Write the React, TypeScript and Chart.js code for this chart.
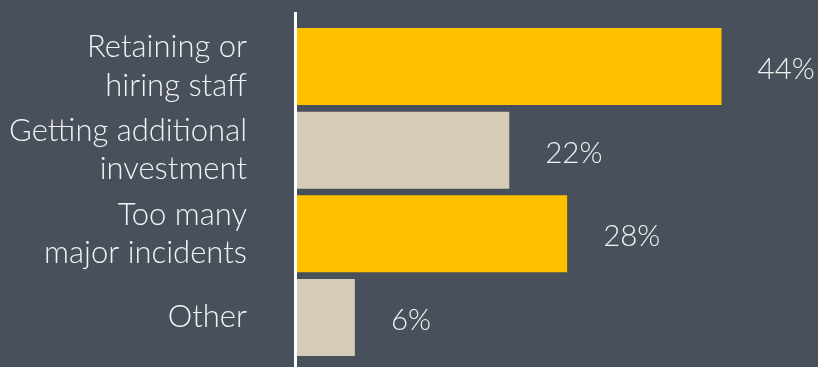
import React, { useEffect, useRef } from "react";
import { Chart, registerables } from "chart.js";

Chart.register(...registerables);

const categories: string[][] = [
  ["Retaining or", "hiring staff"],
  ["Getting additional", "investment"],
  ["Too many", "major incidents"],
  ["Other"],
];
const values: number[] = [44, 22, 28, 6];
const barColors: string[] = ["#FFC000", "#D4CCB6", "#FFC000", "#D4CCB6"];
const valueLabels: string[] = ["44%", "22%", "28%", "6%"];

const BG = "#48505B";
const TEXT = "#F2F2F2";
const FONT = "Lato";

export default function App() {
  const ref = useRef<HTMLCanvasElement>(null);

  useEffect(() => {
    document.body.style.margin = "0";
    document.body.style.background = BG;
    const canvas = ref.current!;
    const bgPlugin = {
      id: "bg",
      beforeDraw(chart: any) {
        const { ctx, width, height } = chart;
        ctx.save();
        ctx.fillStyle = BG;
        ctx.fillRect(0, 0, width, height);
        ctx.restore();
      },
      afterDatasetsDraw(chart: any) {
        const { ctx, chartArea } = chart;
        ctx.save();
        ctx.fillStyle = "#FFFFFF";
        ctx.fillRect(chartArea.left - 3, 12, 3, chart.height - 12);
        const meta = chart.getDatasetMeta(0);
        ctx.font = `300 29.5px ${FONT}`;
        ctx.fillStyle = TEXT;
        ctx.textAlign = "left";
        ctx.textBaseline = "middle";
        meta.data.forEach((bar: any, i: number) => {
          ctx.fillText(valueLabels[i], bar.x + 36, bar.y + 3);
        });
        ctx.restore();
      },
    };
    const chart = new Chart(canvas, {
      type: "bar",
      data: {
        labels: categories,
        datasets: [
          {
            data: values,
            backgroundColor: barColors,
            borderWidth: 0,
            barPercentage: 0.92,
            categoryPercentage: 1,
          },
        ],
      },
      options: {
        indexAxis: "y",
        animation: false,
        responsive: false,
        maintainAspectRatio: false,
        layout: { padding: { top: 24.7, bottom: 7.7, left: 0, right: 0 } },
        plugins: {
          legend: { display: false },
          tooltip: { enabled: false },
        },
        scales: {
          x: {
            display: false,
            min: 0,
            max: 54,
          },
          y: {
            grid: { display: false, drawTicks: false },
            border: { display: false },
            afterFit(scale: any) {
              scale.width = 297;
              scale.paddingTop = 0;
              scale.paddingBottom = 0;
            },
            ticks: {
              padding: 50,
              color: TEXT,
              font: { family: FONT, size: 31, weight: 300, lineHeight: 1.23 },
            },
          },
        },
      },
      plugins: [bgPlugin],
    });
    return () => chart.destroy();
  }, []);

  return (
    <div style={{ width: 818, height: 367 }}>
      <canvas ref={ref} width={818} height={367} style={{ display: "block" }} />
    </div>
  );
}
